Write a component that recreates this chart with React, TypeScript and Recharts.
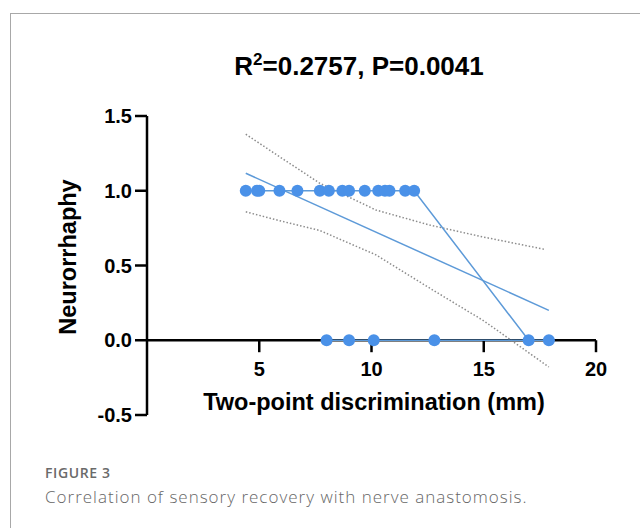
import {
  ComposedChart,
  Scatter,
  XAxis,
  YAxis,
  ReferenceLine,
} from "recharts";

// observed points (two-point discrimination in mm vs neurorrhaphy 0/1), in drawing order
const obsX = [4.4, 4.9, 5.0, 5.9, 6.7, 7.7, 8.1, 8.7, 9.0, 9.7, 10.3, 10.6, 10.8, 11.5, 11.9, 17.0, 17.9, 12.8, 10.1, 9.0, 8.0];
const obsY = [1, 1, 1, 1, 1, 1, 1, 1, 1, 1, 1, 1, 1, 1, 1, 0, 0, 0, 0, 0, 0];

// regression line end points
const fitX = [4.4, 17.9];
const fitY = [1.117, 0.2];

// 95% confidence band
const upperX = [4.4, 5.9, 7.7, 10.2, 12.6, 15.0, 17.75];
const upperY = [1.378, 1.228, 1.05, 0.871, 0.77, 0.69, 0.607];
const lowerX = [4.4, 5.9, 7.7, 10.2, 12.6, 15.0, 17.9];
const lowerY = [0.859, 0.8, 0.734, 0.571, 0.348, 0.13, -0.179];

const xTicks = [5, 10, 15, 20];
const yTicks = [-0.5, 0, 0.5, 1, 1.5];

const pts = (xs: number[], ys: number[]) => xs.map((x, i) => ({ x, y: ys[i] }));

const obsData = pts(obsX, obsY);
const fitData = pts(fitX, fitY);
const upperData = pts(upperX, upperY);
const lowerData = pts(lowerX, lowerY);

const FONT = "'Liberation Sans', Arial, sans-serif";
const BLUE = "#4a91e8";
const LINE_BLUE = "#5d9ad8";

const NoDot = () => <g />;
const Dot = (p: any) => <circle cx={p.cx} cy={p.cy} r={6} fill={BLUE} />;

export default function App() {
  return (
    <div
      style={{
        position: "absolute",
        left: 0,
        top: 0,
        width: 640,
        height: 528,
        background: "#fff",
        overflow: "hidden",
        fontFamily: FONT,
      }}
    >
      <div
        style={{
          position: "absolute",
          left: 10,
          top: 13,
          width: 660,
          height: 540,
          borderLeft: "1px solid #a8a8a8",
          borderTop: "1px solid #a8a8a8",
        }}
      />
      <div
        style={{
          position: "absolute",
          left: 159,
          top: 51,
          width: 400,
          textAlign: "center",
          fontSize: 26,
          lineHeight: "30px",
          fontWeight: "bold",
          color: "#000",
        }}
      >
        R<span style={{ fontSize: 17, position: "relative", top: -10 }}>2</span>=0.2757, P=0.0041
      </div>

      <div style={{ position: "absolute", left: 0, top: 0 }}>
        <ComposedChart
          width={640}
          height={440}
          margin={{ top: 116, right: 44, bottom: 25, left: 87 }}
        >
          <XAxis type="number" dataKey="x" domain={[0, 20]} hide />
          <YAxis
            type="number"
            dataKey="y"
            width={60}
            domain={[-0.5, 1.5]}
            ticks={yTicks}
            interval={0}
            tickFormatter={(v: number) => v.toFixed(1)}
            tickSize={12}
            tickMargin={3}
            axisLine={{ stroke: "#000", strokeWidth: 2.5 }}
            tickLine={{ stroke: "#000", strokeWidth: 2.5 }}
            tick={{ fill: "#000", fontSize: 20, fontWeight: "bold", fontFamily: FONT }}
          />
          <ReferenceLine y={0} stroke="#000" strokeWidth={2.5} />
          {xTicks.map((t) => (
            <ReferenceLine
              key={t}
              segment={[
                { x: t, y: 0 },
                { x: t, y: -0.08 },
              ]}
              stroke="#000"
              strokeWidth={2.5}
              label={{
                value: String(t),
                position: "bottom",
                offset: 10,
                fill: "#000",
                fontSize: 20,
                fontWeight: "bold",
                fontFamily: FONT,
              }}
            />
          ))}
          <Scatter
            data={upperData}
            line={{ stroke: "#8c8c8c", strokeWidth: 1.5, strokeDasharray: "1.5 2" }}
            shape={NoDot}
            isAnimationActive={false}
          />
          <Scatter
            data={lowerData}
            line={{ stroke: "#8c8c8c", strokeWidth: 1.5, strokeDasharray: "1.5 2" }}
            shape={NoDot}
            isAnimationActive={false}
          />
          <Scatter
            data={fitData}
            line={{ stroke: LINE_BLUE, strokeWidth: 1.5 }}
            shape={NoDot}
            isAnimationActive={false}
          />
          <Scatter
            data={obsData}
            line={{ stroke: LINE_BLUE, strokeWidth: 1.5 }}
            shape={Dot}
            isAnimationActive={false}
          />
        </ComposedChart>
      </div>

      <div
        style={{
          position: "absolute",
          left: 67.5,
          top: 256.5,
          transform: "translate(-50%, -50%) rotate(-90deg)",
          fontSize: 23.5,
          lineHeight: "28px",
          fontWeight: "bold",
          whiteSpace: "nowrap",
          color: "#000",
        }}
      >
        Neurorrhaphy
      </div>
      <div
        style={{
          position: "absolute",
          left: 174,
          top: 388,
          width: 400,
          textAlign: "center",
          fontSize: 23.5,
          lineHeight: "28px",
          fontWeight: "bold",
          whiteSpace: "nowrap",
          color: "#000",
        }}
      >
        Two-point discrimination (mm)
      </div>

      <div
        style={{
          position: "absolute",
          left: 45,
          top: 465,
          fontFamily: "'Open Sans', sans-serif",
          fontSize: 14,
          lineHeight: "16px",
          fontWeight: 600,
          color: "#6a6a6a",
          letterSpacing: 0.6,
        }}
      >
        FIGURE 3
      </div>
      <div
        style={{
          position: "absolute",
          left: 45,
          top: 487,
          fontFamily: "'Open Sans', sans-serif",
          fontSize: 17,
          lineHeight: "20px",
          fontWeight: 300,
          color: "#666",
          letterSpacing: 1,
          whiteSpace: "nowrap",
        }}
      >
        Correlation of sensory recovery with nerve anastomosis.
      </div>
    </div>
  );
}
